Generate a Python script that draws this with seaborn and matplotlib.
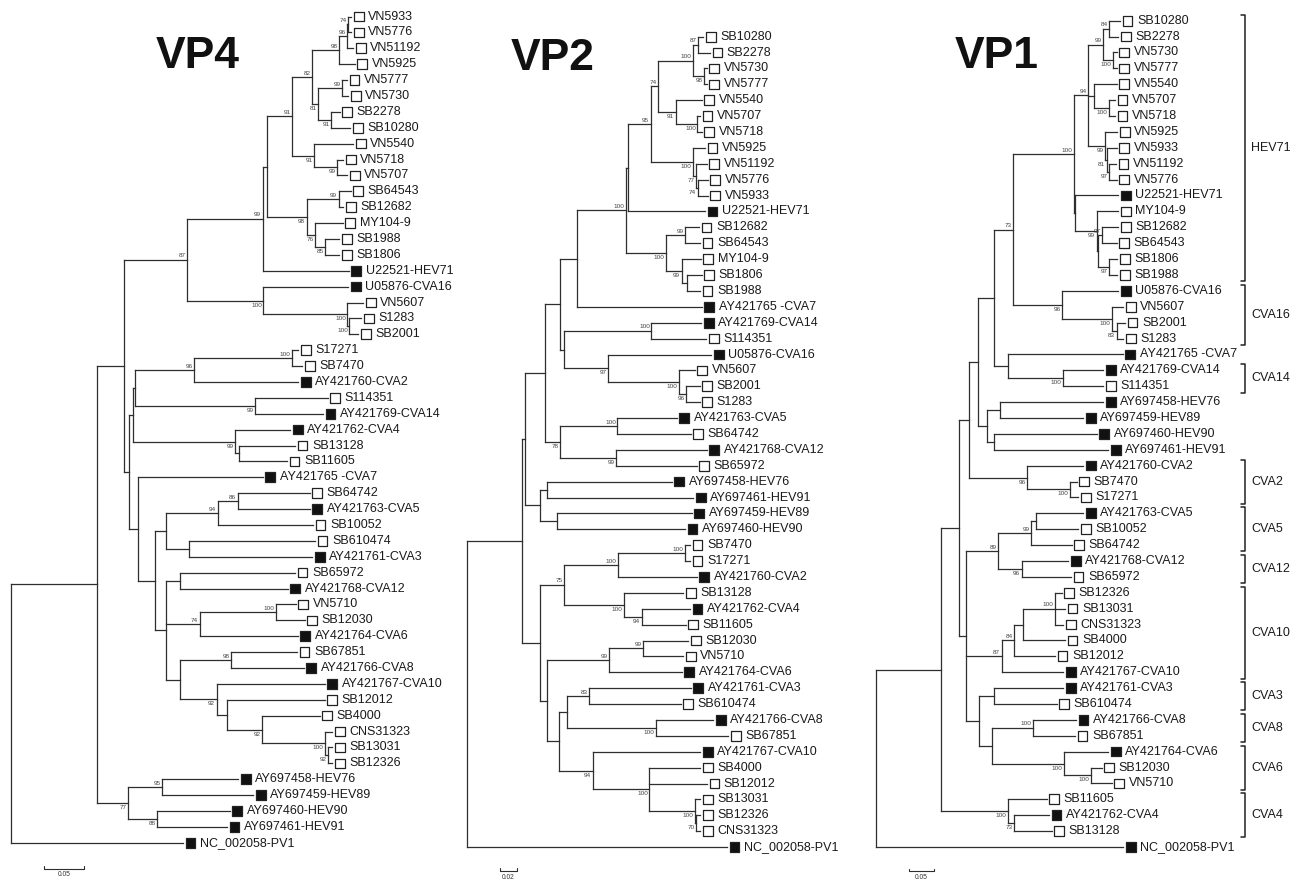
import re
import numpy as np
import pandas as pd
import matplotlib
matplotlib.use("Agg")
import matplotlib.pyplot as plt
from matplotlib.collections import LineCollection
import seaborn as sns

# ---------------- DATA (branch lengths in substitutions/site, bootstrap as node labels) -------------
# VP4 tree
VP4_A = "(((VN5933:0.004,VN5776:0.004)74:0.001,VN51192:0.0075)96:0.01,VN5925:0.019)98"
VP4_B = "((VN5777:0.006,VN5730:0.0075)99:0.03,(SB2278:0.011,SB10280:0.024)91:0.016)81"
VP4_C = "(VN5540:0.049,(VN5718:0.0075,VN5707:0.0125)99:0.029)91"
VP4_D = "((SB64543:0.015,SB12682:0.006)99:0.04,(MY104-9:0.034,(SB1988:0.0175,SB1806:0.0175)85:0.0125)76:0.011)98"
VP4_HEV71 = f"(((({VP4_A}:0.034,{VP4_B}:0.0075)82:0.025,{VP4_C}:0.0275)91:0.031,{VP4_D}:0.049):0.006,U22521-HEV71:0.1075)99"
VP4_CVA16 = "(U05876-CVA16:0.106,(VN5607:0.02,(S1283:0.015,SB2001:0.011)100:0.0025)100:0.105)100"
VP4_UP = f"({VP4_HEV71}:0.094,{VP4_CVA16}:0.095)87"
VP4_CVA2_14 = "(((S17271:0.0075,SB7470:0.0125)100:0.1225,AY421760-CVA2:0.13)96:0.074,(S114351:0.091,AY421769-CVA14:0.085)99:0.15)"
VP4_CVA4 = "(AY421762-CVA4:0.069,(SB13128:0.07,SB11605:0.06):0.005)99"
VP4_F = "(((SB64742:0.09,AY421763-CVA5:0.09)86:0.025,SB10052:0.119)94:0.065,(SB610474:0.1575,AY421761-CVA3:0.154):0.029)"
VP4_I = ("((SB67851:0.0825,AY421766-CVA8:0.091)98:0.064,(AY421767-CVA10:0.135,(SB12012:0.1225,"
         "(SB4000:0.0725,(CNS31323:0.009,(SB13031:0.005,SB12326:0.005)92:0.004)100:0.079)92:0.044):0.0125)92:0.046)")
VP4_G = f"((SB65972:0.144,AY421768-CVA12:0.135):0.0175,((VN5710:0.025,SB12030:0.036)100:0.095,AY421764-CVA6:0.1225)74:0.0425,{VP4_I}:0.0175)"
VP4_LOW = f"(({VP4_CVA2_14}:0.0025,{VP4_CVA4}:0.1275):0.005,(AY421765 -CVA7:0.156,({VP4_F}:0.014,{VP4_G}:0.014):0.021):0.011)"
VP4_HEVX = "((AY697458-HEV76:0.095,AY697459-HEV89:0.114)95:0.0425,(AY697460-HEV90:0.091,AY697461-HEV91:0.0875)88:0.036)77"
VP4_TREE = f"((({VP4_UP}:0.079,{VP4_LOW}:0.006):0.034,{VP4_HEVX}:0.039):0.1075,NC_002058-PV1:0.215);"

# VP2 tree
VP2_N74 = ("(((SB10280:0.006,SB2278:0.014)87:0.006,(VN5730:0.003,VN5777:0.003)98:0.013)100:0.042,"
           "(VN5540:0.031,(VN5707:0.003,VN5718:0.005)100:0.026)91:0.021)74")
VP2_N100C = "(VN5925:0.014,(VN51192:0.013,(VN5776:0.012,VN5933:0.012)74:0.0024)77:0.003)100"
VP2_N100D = "((SB12682:0.017,SB64543:0.018)99:0.023,(MY104-9:0.023,(SB1806:0.018,SB1988:0.016):0.006)99:0.019)100"
VP2_HEV71 = f"((({VP2_N74}:0.009,{VP2_N100C}:0.051)95:0.027,U22521-HEV71:0.092):0.003,{VP2_N100D}:0.048)100"
VP2_N564 = ("((AY421769-CVA14:0.060,S114351:0.066)100:0.105,(U05876-CVA16:0.124,"
            "(VN5607:0.019,(SB2001:0.016,S1283:0.016)96:0.009)100:0.085)97:0.053)")
VP2_N78 = "((AY421763-CVA5:0.071,SB64742:0.088)100:0.069,(AY421768-CVA12:0.109,SB65972:0.097)99:0.067)78"
VP2_HEV = "((AY697458-HEV76:0.150,AY697461-HEV91:0.176):0.008,(AY697459-HEV89:0.162,AY697460-HEV90:0.154):0.020)"
VP2_P = f"(((({VP2_HEV71}:0.059,AY421765 -CVA7:0.150):0.020,{VP2_N564}:0.0048):0.018,{VP2_N78}:0.018):0.024,{VP2_HEV}:0.018)"
VP2_N75 = ("(((SB7470:0.006,S17271:0.006)100:0.080,AY421760-CVA2:0.094)100:0.065,"
           "(SB13128:0.071,(AY421762-CVA4:0.058,SB11605:0.053)94:0.021)100:0.072)75")
VP2_U = ("(((SB12030:0.054,VN5710:0.048)99:0.041,AY421764-CVA6:0.087)99:0.074,"
         "(((AY421761-CVA3:0.122,SB610474:0.110)83:0.026,(AY421766-CVA8:0.069,SB67851:0.087)100:0.106):0.0096,"
         "(AY421767-CVA10:0.129,(SB4000:0.061,SB12012:0.069,(SB13031:0.006,(SB12326:0.005,CNS31323:0.005)70:0.0012)100:0.055)100:0.068)94:0.040):0.0144)")
VP2_TREE = f"(({VP2_P}:0.0036,({VP2_N75}:0.029,{VP2_U}:0.009):0.0216):0.066,NC_002058-PV1:0.312);"

# VP1 tree
VP1_N94 = ("(((SB10280:0.0214,SB2278:0.018)84:0.012,(VN5730:0.0068,VN5777:0.0068)100:0.020)99:0.030,"
           "(VN5540:0.0454,(VN5707:0.0114,VN5718:0.0114)100:0.0306):0.0114,"
           "(VN5925:0.0246,(VN5933:0.020,(VN51192:0.014,VN5776:0.0154)97:0.0046)81:0.0034)99:0.0334)94")
VP1_HIN = ("(U22521-HEV71:0.0866,(MY104-9:0.0432,((SB12682:0.032,SB64543:0.0288)97:0.0092,"
           "(SB1806:0.016,SB1988:0.016)97:0.0232):0.002)99:0.0434)")
VP1_CVA16 = "(U05876-CVA16:0.112,(VN5607:0.0232,(SB2001:0.0166,S1283:0.0132)83:0.010)100:0.0988)96"
VP1_N73 = f"(({VP1_N94}:0.0286,{VP1_HIN}:0.002)100:0.1214,{VP1_CVA16}:0.098)73"
VP1_N7 = "(AY421765 -CVA7:0.2288,(AY421769-CVA14:0.080,S114351:0.080)100:0.110)"
VP1_HEV = "((AY697458-HEV76:0.2066,AY697459-HEV89:0.1666):0.0254,(AY697460-HEV90:0.2048,AY697461-HEV91:0.228):0.014)"
VP1_CVA2 = "(AY421760-CVA2:0.112,(SB7470:0.0134,S17271:0.0166)100:0.0854)96"
VP1_M1 = f"((({VP1_N73}:0.038,{VP1_N7}:0.028):0.032,{VP1_HEV}:0.018):0.0186,{VP1_CVA2}:0.1166)"
VP1_N89 = ("(((AY421763-CVA5:0.0946,SB10052:0.0846):0.010,SB64742:0.0814)99:0.0654,"
           "(AY421768-CVA12:0.0932,SB65972:0.0986)96:0.0468)89")
VP1_N87 = ("((((SB12326:0.0134,SB13031:0.020,CNS31323:0.0166)100:0.0634,SB4000:0.0834):0.0186,"
           "SB12012:0.082)84:0.0246,AY421767-CVA10:0.1232)87")
VP1_N979 = ("((AY421761-CVA3:0.1386,SB610474:0.1254):0.0294,((AY421766-CVA8:0.0866,SB67851:0.0846)100:0.082,"
            "(AY421764-CVA6:0.088,(SB12030:0.022,VN5710:0.042)100:0.0528)100:0.1452):0.0248)")
VP1_M2 = f"({VP1_N89}:0.0646,{VP1_N87}:0.0714,{VP1_N979}:0.0266)"
VP1_CVA4 = "(SB11605:0.0768,(AY421762-CVA4:0.070,SB13128:0.0754)73:0.0114)100"
VP1_TREE = f"((({VP1_M1}:0.0194,{VP1_M2}:0.0134):0.0366,{VP1_CVA4}:0.1346):0.130,NC_002058-PV1:0.4946);"

VP1_CLADES = ["HEV71", "CVA16", "CVA14", "CVA2", "CVA5", "CVA12", "CVA10", "CVA3", "CVA8", "CVA6", "CVA4"]
VP1_CLADE_FIRST = ["SB10280", "U05876-CVA16", "AY421769-CVA14", "AY421760-CVA2", "AY421763-CVA5",
                   "AY421768-CVA12", "SB12326", "AY421761-CVA3", "AY421766-CVA8", "AY421764-CVA6", "SB11605"]
VP1_CLADE_LAST = ["SB1988", "S1283", "S114351", "S17271", "SB64742", "SB65972", "AY421767-CVA10",
                  "SB610474", "SB67851", "VN5710", "SB13128"]

TITLES = ["VP4", "VP2", "VP1"]
SCALE_VALUES = [0.05, 0.02, 0.05]
SCALE_LABELS = ["0.05", "0.02", "0.05"]

# ---------------- helpers ----------------
def parse_newick(text):
    s = text.strip().rstrip(";")
    pos = 0

    def node():
        nonlocal pos
        n = {"children": [], "name": "", "length": 0.0}
        if pos < len(s) and s[pos] == "(":
            pos += 1
            while pos < len(s):
                n["children"].append(node())
                if pos < len(s) and s[pos] == ",":
                    pos += 1
                    continue
                if pos < len(s) and s[pos] == ")":
                    pos += 1
                break
        start = pos
        while pos < len(s) and s[pos] not in ":,)":
            pos += 1
        n["name"] = s[start:pos].strip()
        if pos < len(s) and s[pos] == ":":
            pos += 1
            start = pos
            while pos < len(s) and s[pos] not in ",)":
                pos += 1
            n["length"] = float(s[start:pos])
        return n

    return node()


def layout(n, depth, leaves, internals):
    n["x"] = depth + n["length"]
    if not n["children"]:
        n["y"] = float(len(leaves))
        leaves.append(n)
        return
    internals.append(n)
    k = len(n["children"])
    for i, c in enumerate(n["children"]):
        c["last"] = (i == k - 1)
        layout(c, n["x"], leaves, internals)
    n["y"] = (n["children"][0]["y"] + n["children"][-1]["y"]) / 2.0


# ---------------- figure ----------------
sns.set_theme(style="white")
plt.rcParams["font.family"] = ["Liberation Sans", "DejaVu Sans"]

W, H, DPI = 1299, 884, 100
ROW_PX = 15.89
PANELS = [
    dict(tree=VP4_TREE, root_px=11.0, y0=16.5, ppu=800.0, bar_px=(44.3, 868.5), title_px=(198, 57)),
    dict(tree=VP2_TREE, root_px=467.0, y0=36.7, ppu=833.0, bar_px=(500.0, 871.0), title_px=(553, 58)),
    dict(tree=VP1_TREE, root_px=876.0, y0=20.7, ppu=500.0, bar_px=(909.0, 871.0), title_px=(997, 57)),
]
LINE_COLOR = "#2e2e2e"

fig = plt.figure(figsize=(W / DPI, H / DPI), dpi=DPI)
fig.patch.set_facecolor("white")

for k, p in enumerate(PANELS):
    ax = fig.add_axes([0, 0, 1, 1])
    ax.set_facecolor("none")
    ppu = p["ppu"]
    px_x = 1.0 / ppu
    px_y = 1.0 / ROW_PX

    tree = parse_newick(p["tree"])
    leaves, internals = [], []
    tree["last"] = False
    layout(tree, 0.0, leaves, internals)

    segs = []
    for n in internals:
        ch = n["children"]
        segs.append([(n["x"], ch[0]["y"]), (n["x"], ch[-1]["y"])])
        for c in ch:
            segs.append([(n["x"], c["y"]), (c["x"], c["y"])])
    ax.add_collection(LineCollection(segs, colors=LINE_COLOR, linewidths=0.9, capstyle="projecting"))

    df = pd.DataFrame({"name": [l["name"] for l in leaves],
                       "x": [l["x"] for l in leaves],
                       "y": [l["y"] for l in leaves]})
    df["kind"] = np.where(df["name"].str.contains(r"-[A-Z]", regex=True), "reference", "isolate")
    df["mx"] = df["x"] + 7.5 * px_x
    sns.scatterplot(data=df, x="mx", y="y", hue="kind",
                    palette={"reference": "#111111", "isolate": "white"},
                    marker="s", s=48, edgecolor="#222222", linewidth=0.9,
                    legend=False, ax=ax, zorder=3)
    for _, r in df.iterrows():
        ax.text(r["x"] + 17 * px_x, r["y"], r["name"], fontsize=9, ha="left",
                va="center", color="#1a1a1a")

    for n in internals:
        if n["name"]:
            below = n.get("last", False)
            ax.text(n["x"] - 1.5 * px_x, n["y"] + (2.0 if below else -1.5) * px_y, n["name"],
                    fontsize=4.6, ha="right", va="top" if below else "bottom", color="#444444")

    # scale bar
    bx = (p["bar_px"][0] - p["root_px"]) * px_x
    by = (p["bar_px"][1] - p["y0"]) * px_y
    sv = SCALE_VALUES[k]
    ax.plot([bx, bx + sv], [by, by], color=LINE_COLOR, lw=0.8)
    ax.plot([bx, bx], [by, by - 2.5 * px_y], color=LINE_COLOR, lw=0.8)
    ax.plot([bx + sv, bx + sv], [by, by - 2.5 * px_y], color=LINE_COLOR, lw=0.8)
    ax.text(bx + sv / 2, by + 3 * px_y, SCALE_LABELS[k], fontsize=4.8, ha="center", va="top",
            color="#333333")

    # clade brackets (VP1)
    if k == 2:
        ypos = dict(zip(df["name"], df["y"]))
        xb = (1245 - p["root_px"]) * px_x
        for lab, a, b in zip(VP1_CLADES, VP1_CLADE_FIRST, VP1_CLADE_LAST):
            ya = ypos[a] - 0.37
            yb = ypos[b] + 0.40
            ax.plot([xb - 4 * px_x, xb, xb, xb - 4 * px_x], [ya, ya, yb, yb],
                    color="#222222", lw=1.1)
            ax.text(xb + 6 * px_x, (ya + yb) / 2, lab, fontsize=9, ha="left", va="center",
                    color="#1a1a1a")

    ax.set_xlim(-p["root_px"] * px_x, (W - p["root_px"]) * px_x)
    ax.set_ylim((H - p["y0"]) * px_y, -p["y0"] * px_y)
    ax.set_axis_off()

    fig.text(p["title_px"][0] / W, 1 - p["title_px"][1] / H, TITLES[k], fontsize=32,
             fontweight="bold", ha="center", va="center", color="#111111")

fig.savefig("out.png", dpi=DPI, facecolor="white")
